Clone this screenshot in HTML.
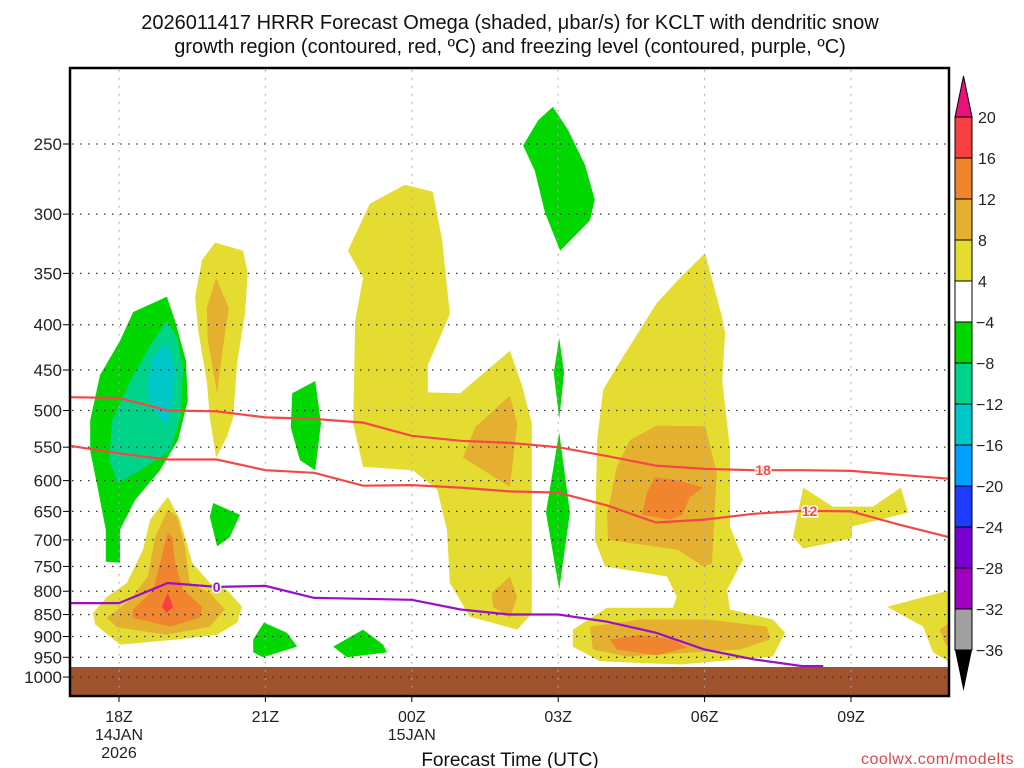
<!DOCTYPE html>
<html><head><meta charset="utf-8"><style>
html,body{margin:0;padding:0;background:#fff;}
svg{display:block;font-family:"Liberation Sans",sans-serif;}
</style></head><body>
<svg id="chart" width="1024" height="768" viewBox="0 0 1024 768" xmlns="http://www.w3.org/2000/svg">
<text x="510" y="29" text-anchor="middle" font-size="20" fill="#111">2026011417 HRRR Forecast Omega (shaded, μbar/s) for KCLT with dendritic snow</text>
<text x="510" y="53" text-anchor="middle" font-size="20" fill="#111">growth region (contoured, red, ºC) and freezing level (contoured, purple, ºC)</text>
<defs><clipPath id="plotclip"><rect x="70" y="68" width="879" height="628"/></clipPath></defs>
<g id="shades" clip-path="url(#plotclip)"></g>
<rect x="70" y="667" width="879" height="29" fill="#a0522d"/>
<g id="grid"></g>
<g id="lines" clip-path="url(#plotclip)"></g>
<rect x="70" y="68" width="879" height="628" fill="none" stroke="#000" stroke-width="2.5"/>
<g id="yaxis"></g>
<g id="xaxis"></g>
<text x="510" y="766" text-anchor="middle" font-size="19" fill="#111">Forecast Time (UTC)</text>
<text x="1014" y="764" text-anchor="end" font-size="16" fill="#e04848" letter-spacing="0.5">coolwx.com/modelts</text>
<g id="cbar"></g>
</svg>
<script>
const pressureTicks=[250,300,350,400,450,500,550,600,650,700,750,800,850,900,950,1000];
const timeTicks=[18,21,24,27,30,33];
const timeLabels=[["18Z","14JAN","2026"],["21Z"],["00Z","15JAN"],["03Z"],["06Z"],["09Z"]];
const cbarLevels=[20,16,12,8,4,-4,-8,-12,-16,-20,-24,-28,-32,-36];
const cbarColors=["#f84040","#f0852d","#e5b030","#e5dc32","#ffffff","#00d800","#00d48a","#00c8c8","#00a0ff","#1e3cff","#7800d0","#a000c0","#a0a0a0"];
// freezing level (0C) and DGZ (-12, -18) : hours from 00Z 14JAN, pressure hPa
const lineHours=[17,18,19,20,21,22,23,24,25,26,27,28,29,30,31,32,33,34,35];
const dgz18=[483,484,500,501,509,511,516,534,541,544,550,563,577,582,584,584,585,591,597];
const dgz12=[548,559,568,568,584,588,608,607,611,617,619,640,669,664,654,649,650,673,695];
const frzHours=[17,18,19,20,21,22,23,24,25,26,27,28,29,30,31,32,32.43];
const frzLevel=[825,825,783,791,789,814,816,818,839,850,850,866,891,931,955,972,972];
// shaded omega regions: [color, [[hour,hPa],...]]
const greenA=[[18.98,372],[18.29,387],[18.02,417],[17.61,456],[17.41,513],[17.41,555],[17.57,614],[17.73,682],[17.73,741],[18.02,743],[18.02,682],[18.33,631],[18.84,584],[19.21,540],[19.41,487],[19.37,439],[19.15,396]];
const tealA=[[18.98,396],[18.64,422],[18.23,463],[17.86,513],[17.80,569],[17.98,604],[18.43,584],[19.05,555],[19.25,509],[19.31,450],[19.19,414]];
const cyanA=[[18.98,419],[18.68,436],[18.57,474],[18.70,500],[18.98,520],[19.11,483],[19.15,450]];
const yellowB=[[19.97,323],[19.70,338],[19.56,372],[19.62,406],[19.80,463],[19.86,509],[19.99,565],[20.21,536],[20.34,509],[20.42,442],[20.58,389],[20.64,350],[20.54,330]];
const orangeB=[[19.99,354],[19.80,383],[19.82,417],[20.01,478],[20.13,425],[20.25,383]];
const yellowC=[[19.00,626],[18.64,664],[18.49,718],[18.16,783],[17.75,812],[17.47,846],[17.51,872],[18.02,919],[19.19,907],[20.01,896],[20.42,868],[20.52,833],[20.21,797],[19.86,783],[19.50,743],[19.25,664]];
const lorangeC=[[19.00,647],[18.74,695],[18.59,770],[18.23,818],[17.75,857],[17.96,879],[18.98,896],[19.86,877],[20.17,839],[19.86,803],[19.45,783],[19.35,712],[19.19,659]];
const orangeC=[[19.00,687],[18.84,743],[18.70,797],[18.29,839],[18.27,857],[19.05,877],[19.66,857],[19.70,833],[19.31,797],[19.15,743],[19.09,695]];
const redC=[[19.00,803],[18.88,833],[18.98,846],[19.11,833]];
const greenD=[[19.93,636],[19.86,659],[20.01,712],[20.27,695],[20.48,656]];
const greenE=[[21.55,478],[22.02,463],[22.14,517],[22.02,584],[21.71,569],[21.52,523]];
const greenF=[[20.97,868],[20.75,907],[20.75,938],[20.95,950],[21.65,924],[21.44,891]];
const greenG=[[23.00,884],[22.39,924],[22.67,950],[23.49,938],[23.41,919]];
const yellowH=[[22.69,330],[23.14,292],[23.86,278],[24.43,283],[24.62,321],[24.78,389],[24.33,444],[24.33,477],[24.99,478],[26.01,428],[26.26,469],[26.46,517],[26.46,848],[26.16,884],[25.19,855],[24.78,783],[24.72,682],[24.52,614],[24.02,584],[23.00,579],[22.80,517],[22.84,396],[23.00,354]];
const lorangeH1=[[26.01,481],[25.30,522],[25.05,565],[26.01,610],[26.16,517]];
const lorangeH2=[[26.01,770],[25.64,803],[25.66,833],[26.01,857],[26.16,812]];
const greenI=[[26.89,227],[27.20,241],[27.55,264],[27.75,289],[27.65,305],[27.04,330],[26.73,299],[26.52,268],[26.28,251],[26.59,235]];
const greenJ=[[27.02,414],[26.91,453],[27.02,511],[27.12,453]];
const greenK=[[27.02,529],[26.75,652],[27.02,797],[27.24,652]];
const yellowL=[[30.01,332],[30.36,393],[30.42,409],[30.36,463],[30.52,552],[30.52,676],[30.79,737],[30.46,797],[30.52,839],[31.40,861],[31.65,891],[31.40,948],[29.50,968],[27.86,960],[27.30,924],[27.30,884],[28.00,835],[29.35,835],[29.43,812],[29.23,770],[27.96,750],[27.75,700],[27.80,540],[27.92,474],[28.20,446],[29.02,378],[29.50,354]];
const lorangeL1=[[29.02,520],[30.01,521],[30.25,588],[30.15,745],[29.97,750],[29.45,718],[28.02,700],[28.00,656],[28.20,579],[28.47,540]];
const orangeL1=[[28.98,595],[29.43,599],[29.97,611],[29.70,626],[29.54,656],[29.29,664],[28.72,656],[28.82,619]];
const lorangeL2=[[27.65,877],[27.71,931],[28.41,948],[30.73,931],[31.34,907],[31.28,877],[30.05,861],[28.68,861]];
const orangeL2=[[28.06,907],[28.20,931],[29.02,945],[29.64,926],[29.35,907],[28.68,896]];
const yellowM=[[32.02,611],[31.81,695],[32.02,716],[33.02,697],[33.02,676],[34.17,652],[34.02,611],[33.45,642],[32.63,642]];
const yellowN=[[35.2,793],[33.74,833],[34.48,877],[34.68,938],[35.2,975]];
const orangeN=[[35.2,852],[34.82,884],[34.93,919],[35.2,926]];

const X=h=>119+48.8*(h-18);
const Y=p=>144+384.5*Math.log(p/250);
const NS="http://www.w3.org/2000/svg";
function mk(tag,parent){const e=document.createElementNS(NS,tag);parent.appendChild(e);return e;}

const shades=document.getElementById('shades');
const regions=[["yellow-region-a",yellowB,"#e5dc32"],["orange-region-a",orangeB,"#e5b030"],
["green-region-a",greenA,"#00d800"],["teal-region-a",tealA,"#00d48a"],["cyan-region-a",cyanA,"#00c8c8"],
["yellow-region-c",yellowC,"#e5dc32"],["light-orange-region-c",lorangeC,"#e5b030"],["orange-region-c",orangeC,"#f0852d"],["red-region-c",redC,"#f84040"],
["green-region-d",greenD,"#00d800"],["green-region-e",greenE,"#00d800"],["green-region-f",greenF,"#00d800"],["green-region-g",greenG,"#00d800"],
["yellow-region-h",yellowH,"#e5dc32"],["light-orange-region-h1",lorangeH1,"#e5b030"],["light-orange-region-h2",lorangeH2,"#e5b030"],
["green-region-i",greenI,"#00d800"],["green-region-j",greenJ,"#00d800"],["green-region-k",greenK,"#00d800"],
["yellow-region-l",yellowL,"#e5dc32"],["light-orange-region-l1",lorangeL1,"#e5b030"],["orange-region-l1",orangeL1,"#f0852d"],["light-orange-region-l2",lorangeL2,"#e5b030"],["orange-region-l2",orangeL2,"#f0852d"],
["yellow-region-m",yellowM,"#e5dc32"],["yellow-region-n",yellowN,"#e5dc32"],["orange-region-n",orangeN,"#e5b030"]];
regions.forEach(r=>{
  const e=mk('polygon',shades);
  
  
  e.setAttribute('points',r[1].map(q=>X(q[0]).toFixed(1)+','+Y(q[1]).toFixed(1)).join(' '));
  e.setAttribute('fill',r[2]);
});

const grid=document.getElementById('grid');
pressureTicks.forEach(p=>{
  const l=mk('line',grid);
  
  
  l.setAttribute('x1',72);l.setAttribute('x2',948);l.setAttribute('y1',Y(p));l.setAttribute('y2',Y(p));
  l.setAttribute('stroke','#333');l.setAttribute('stroke-width','1.3');l.setAttribute('stroke-dasharray','1.5 6.5');
});
timeTicks.forEach(h=>{
  const l=mk('line',grid);
  
  
  l.setAttribute('x1',X(h));l.setAttribute('x2',X(h));l.setAttribute('y1',70);l.setAttribute('y2',695);
  l.setAttribute('stroke','#aaa');l.setAttribute('stroke-width','1.3');l.setAttribute('stroke-dasharray','1.5 6.5');
});

const lines=document.getElementById('lines');
function drawLine(name,hs,ps,color){
  const e=mk('polyline',lines);
  
  
  e.setAttribute('points',hs.map((h,i)=>X(h).toFixed(1)+','+Y(ps[i]).toFixed(1)).join(' '));
  e.setAttribute('fill','none');e.setAttribute('stroke',color);e.setAttribute('stroke-width','2.2');
}
drawLine('dgz-minus18-line',lineHours,dgz18,'#f44848');
drawLine('dgz-minus12-line',lineHours,dgz12,'#f44848');
drawLine('freezing-level-line',frzHours,frzLevel,'#9a10c8');
function label(name,h,ps,txt,color){
  const x=X(h);
  const i=lineHours.indexOf(Math.floor(h));
  const y=Y(ps[i]+(ps[i+1]-ps[i])*(h-Math.floor(h)));
  const r=mk('rect',lines);
  
  
  r.setAttribute('x',x-12);r.setAttribute('y',y-8);r.setAttribute('width',24);r.setAttribute('height',16);r.setAttribute('fill','#fff');r.setAttribute('fill-opacity','0');
  const t=mk('text',lines);
  
  
  t.setAttribute('x',x);t.setAttribute('y',y+5);t.setAttribute('text-anchor','middle');
  t.setAttribute('font-size','14');t.setAttribute('font-weight','bold');t.setAttribute('fill',color);
  t.setAttribute('stroke','#fff');t.setAttribute('stroke-width','3');t.setAttribute('paint-order','stroke');
  t.textContent=txt;
}
label('dgz-label-18',31.2,dgz18,'18','#f44848');
label('dgz-label-12',32.15,dgz12,'12','#f44848');
(function(){const h=20.0;const x=X(h);const y=Y(frzLevel[3]);
  const t=mk('text',lines);
  
  
  t.setAttribute('x',x);t.setAttribute('y',y+5);t.setAttribute('text-anchor','middle');
  t.setAttribute('font-size','14');t.setAttribute('font-weight','bold');t.setAttribute('fill','#9a10c8');
  t.setAttribute('stroke','#fff');t.setAttribute('stroke-width','3');t.setAttribute('paint-order','stroke');
  t.textContent='0';})();

const yaxis=document.getElementById('yaxis');
pressureTicks.forEach(p=>{
  const t=mk('text',yaxis);
  
  
  t.setAttribute('x',62);t.setAttribute('y',Y(p)+6);t.setAttribute('text-anchor','end');t.setAttribute('font-size','17');t.setAttribute('fill','#222');
  t.textContent=p;
  const l=mk('line',yaxis);
  
  
  l.setAttribute('x1',63);l.setAttribute('x2',70);l.setAttribute('y1',Y(p));l.setAttribute('y2',Y(p));l.setAttribute('stroke','#000');
});
const xaxis=document.getElementById('xaxis');
timeTicks.forEach((h,i)=>{
  const l=mk('line',xaxis);
  
  
  l.setAttribute('x1',X(h));l.setAttribute('x2',X(h));l.setAttribute('y1',696);l.setAttribute('y2',702);l.setAttribute('stroke','#000');
  timeLabels[i].forEach((s,j)=>{
    const t=mk('text',xaxis);
    
    
    t.setAttribute('x',X(h));t.setAttribute('y',722+j*18);t.setAttribute('text-anchor','middle');t.setAttribute('font-size','16');t.setAttribute('fill','#222');
    t.textContent=s;
  });
});

const cbar=document.getElementById('cbar');
const cbTop=117,cbStep=41,cx0=955,cx1=972;
const up=mk('polygon',cbar);


up.setAttribute('points',`${cx0},${cbTop} ${cx1},${cbTop} ${(cx0+cx1)/2},${cbTop-41}`);up.setAttribute('fill','#e8127a');up.setAttribute('stroke','#000');
cbarColors.forEach((c,i)=>{
  const r=mk('rect',cbar);
  
  
  r.setAttribute('x',cx0);r.setAttribute('y',cbTop+i*cbStep);r.setAttribute('width',cx1-cx0);r.setAttribute('height',cbStep);r.setAttribute('fill',c);r.setAttribute('stroke','#000');
});
const yb=cbTop+cbarColors.length*cbStep;
const dn=mk('polygon',cbar);


dn.setAttribute('points',`${cx0},${yb} ${cx1},${yb} ${(cx0+cx1)/2},${yb+41}`);dn.setAttribute('fill','#000');
cbarLevels.forEach((v,i)=>{
  const t=mk('text',cbar);
  
  
  t.setAttribute('x',v<0?976:978);t.setAttribute('y',cbTop+i*cbStep+6);t.setAttribute('font-size','16');t.setAttribute('fill','#222');
  t.textContent=v<0?'\u2212'+(-v):String(v);
});
</script>
</body></html>
